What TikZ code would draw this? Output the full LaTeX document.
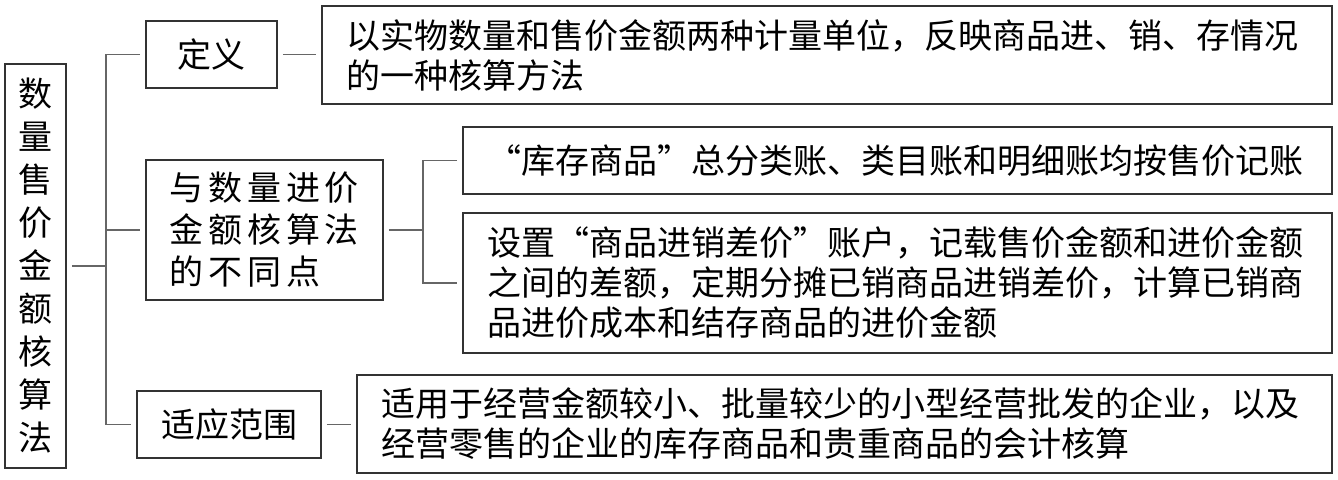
\documentclass[tikz,border=0pt]{standalone}
\usepackage{fontspec}
\newfontfamily\cjk{Noto Sans CJK SC}
\newfontfamily\cjkwide[LetterSpace=14]{Noto Sans CJK SC}

\definecolor{boxline}{rgb}{0.2,0.2,0.2}
\definecolor{linkline}{rgb}{0.4,0.4,0.4}

\tikzset{
  box/.style={draw=boxline, line width=0.8pt, inner ysep=0pt, inner xsep=12pt,
    font=\cjk\fontsize{17pt}{20pt}\selectfont},
  textbox/.style={box, align=left},
  link/.style={draw=linkline, line width=0.8pt},
}

\begin{document}
\begin{tikzpicture}[x=0.5pt, y=-0.5pt]
    \useasboundingbox (0,0) rectangle (1338,479);

    \node[box, inner xsep=0pt, minimum width=30.5pt, minimum height=202pt, align=center,
      font=\cjk\fontsize{17pt}{21.5pt}\selectfont] (root) at (35.5,266)
      {数\\量\\售\\价\\金\\额\\核\\算\\法};

    \node[box, minimum width=65.5pt, minimum height=33.5pt] (def) at (211.5,54.5) {定义};
    \node[box, align=left, minimum width=118.5pt, minimum height=70pt,
      font=\cjkwide\fontsize{17pt}{21pt}\selectfont] (diff) at (264.5,230)
      {与数量进价\\金额核算法\\的不同点};
    \node[box, minimum width=83pt, minimum height=33.5pt] (scope) at (229,424.5) {适应范围};

    \node[textbox, text width=481pt, minimum height=49pt] (defT) at (827,55)
      {以实物数量和售价金额两种计量单位，反映商品进、销、存情况\\的一种核算方法};
    \node[textbox, text width=410.5pt, minimum height=33.5pt] (diffA) at (897.5,160.5)
      {“库存商品”总分类账、类目账和明细账均按售价记账};
    \node[textbox, text width=410.5pt, minimum height=70pt] (diffB) at (897.5,283)
      {设置“商品进销差价”账户，记载售价金额和进价金额\\之间的差额，定期分摊已销商品进销差价，计算已销商\\品进价成本和结存商品的进价金额};
    \node[textbox, text width=463.5pt, minimum height=49pt] (scopeT) at (844.5,424)
      {适用于经营金额较小、批量较少的小型经营批发的企业，以及\\经营零售的企业的库存商品和贵重商品的会计核算};

    \coordinate (fork) at (106,266);
    \coordinate (fork2) at (423,230);

    \draw[link, shorten <=2.5pt] (root.east) -- (fork);
    \draw[link, shorten <=2.5pt, shorten >=2.5pt] (def.west) -- (fork |- def) -- (fork |- scope) -- (scope.west);
    \draw[link, shorten >=2.5pt] (fork |- diff) -- (diff.west);

    \draw[link, shorten <=2.5pt, shorten >=2.5pt] (def.east) -- (def.east -| defT.west);
    \draw[link, shorten <=2.5pt] (diff.east) -- (fork2);
    \draw[link, shorten <=2.5pt, shorten >=2.5pt] (diffA.west) -- (fork2 |- diffA) -- (fork2 |- diffB) -- (diffB.west);
    \draw[link, shorten <=2.5pt, shorten >=2.5pt] (scope.east) -- (scope.east -| scopeT.west);
\end{tikzpicture}
\end{document}
